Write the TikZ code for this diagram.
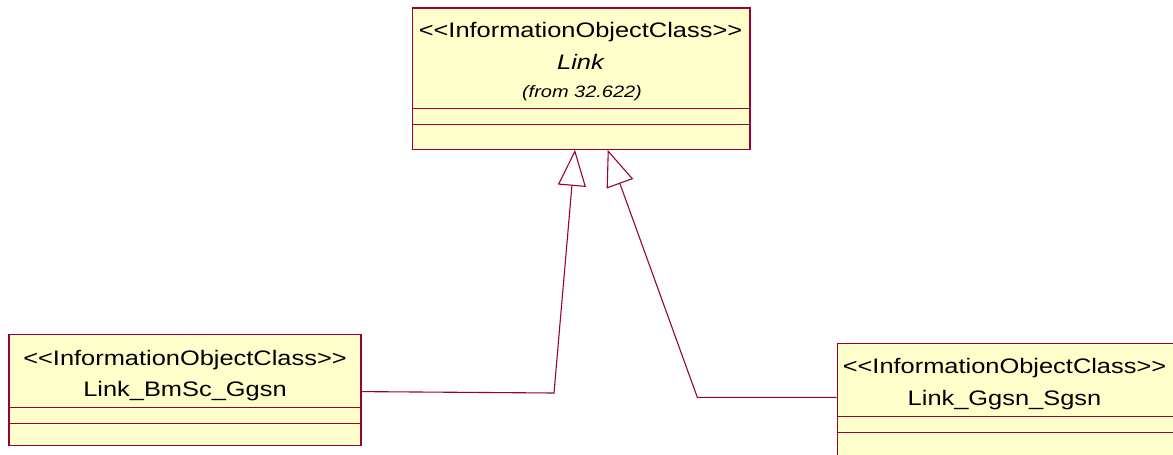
\documentclass[tikz,border=0pt]{standalone}
\usepackage{fontspec}
\setmainfont{Liberation Sans}[FakeStretch=1.21]
\usetikzlibrary{arrows.meta,calc}
\definecolor{umlline}{RGB}{153,0,51}
\definecolor{umlfill}{RGB}{255,255,204}
\newcommand{\stereotxt}{<\kern0pt<InformationObjectClass>\kern0pt>}
\tikzset{
  classbox/.style={draw=umlline, fill=umlfill, line width=1.2pt, rectangle, inner sep=0pt, anchor=north west},
  divider/.style={draw=umlline, line width=1.1pt},
  stereo/.style={anchor=base, inner sep=0pt, font=\fontsize{21}{24}\selectfont},
  cname/.style={anchor=base, inner sep=0pt, font=\fontsize{21}{24}\selectfont},
  fromtxt/.style={anchor=base, inner sep=0pt, font=\fontsize{16.5}{19}\selectfont\itshape},
  gen/.style={draw=umlline, line width=1.1pt, -{Triangle[open, length=36pt, width=28pt, line width=1.1pt]}}
}
\begin{document}
\begin{tikzpicture}[x=1pt,y=-1pt]
\useasboundingbox (0,0) rectangle (1173,455);
\clip (0,0) rectangle (1173,455);
% boxes
\node[classbox, minimum width=337.6pt, minimum height=141.4pt] (top) at (411.7,7.3) {};
\node[classbox, minimum width=352pt, minimum height=111pt] (left) at (8.3,334) {};
\node[classbox, minimum width=337pt, minimum height=114pt] (right) at (836.7,342.7) {};
% dividers
\draw[divider] ($(top.north west)+(0,101.4)$) -- ($(top.north east)+(0,101.4)$);
\draw[divider] ($(top.north west)+(0,117)$) -- ($(top.north east)+(0,117)$);
\draw[divider] ($(left.north west)+(0,73.7)$) -- ($(left.north east)+(0,73.7)$);
\draw[divider] ($(left.north west)+(0,89.3)$) -- ($(left.north east)+(0,89.3)$);
\draw[divider] ($(right.north west)+(0,74)$) -- ($(right.north east)+(0,74)$);
\draw[divider] ($(right.north west)+(0,89.6)$) -- ($(right.north east)+(0,89.6)$);
% texts
\node[stereo] (t1a) at (580.5,37.3) {\stereotxt};
\node[cname] (t1b) at (580.5,69.3) {\itshape Link};
\node[fromtxt] (t1c) at (582,97.5) {(from 32.622)};
\node[stereo] (t2a) at (185,365) {\stereotxt};
\node[cname] (t2b) at (185,396.7) {Link\_BmSc\_Ggsn};
\node[stereo] (t3a) at (1004.5,373.3) {\stereotxt};
\node[cname] (t3b) at (1004.5,405) {Link\_Ggsn\_Sgsn};
% connectors
\coordinate (b1) at (554,393);
\coordinate (p1) at (575,0);
\coordinate (b2) at (697.3,397.3);
\coordinate (p2) at (607.7,0);
\draw[gen] ([yshift=-1.5pt]left.east) -- (b1) -- (top.south -| p1);
\draw[gen] (right.west |- b2) -- (b2) -- (top.south -| p2);
\end{tikzpicture}
\end{document}
